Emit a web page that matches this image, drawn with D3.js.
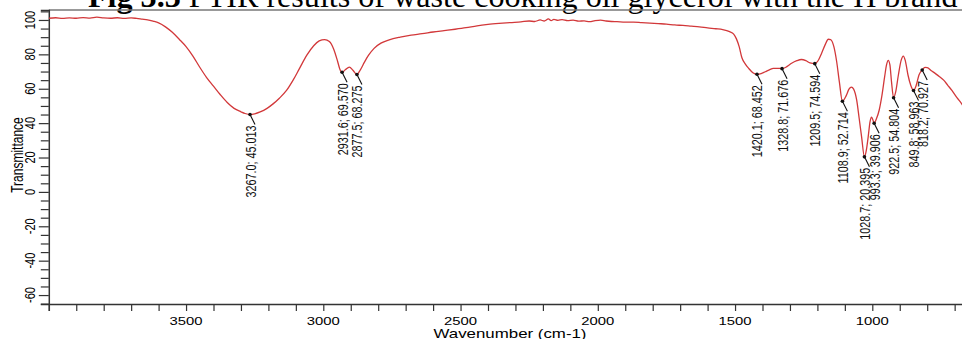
<!DOCTYPE html>
<html>
<head>
<meta charset="utf-8">
<script src="https://cdn.jsdelivr.net/npm/d3@7"></script>
<style>
  body { margin: 0; background: #fff; }
  svg { display: block; }
</style>
</head>
<body>
<div id="chart"></div>
<script>
/* FTIR spectrum: waste cooking oil glycerol, H brand */

// spectrum: wavenumber (cm-1) and % transmittance
const wavenumber = [4000, 3975, 3950, 3925, 3900, 3875, 3850, 3825, 3800, 3775, 3750, 3725, 3700, 3680, 3660, 3640, 3620, 3600,
  3575, 3550, 3525, 3500, 3475, 3450, 3425, 3400, 3375, 3350, 3325, 3300, 3285, 3267, 3250, 3230, 3205, 3183, 3160, 3134,
  3110, 3086, 3060, 3035, 3015, 2995, 2978, 2962, 2948, 2940, 2931.6, 2920, 2905, 2892, 2877.5, 2865, 2850, 2835, 2815,
  2790, 2760, 2720, 2680, 2640, 2600, 2560, 2520, 2480, 2440, 2400, 2360, 2320, 2280, 2250, 2230, 2210, 2195, 2180, 2170,
  2160, 2145, 2130, 2110, 2090, 2070, 2050, 2030, 2010, 1990, 1970, 1950, 1930, 1900, 1870, 1840, 1810, 1780, 1750, 1720,
  1690, 1660, 1630, 1600, 1570, 1545, 1520, 1505, 1495, 1485, 1475, 1463, 1450, 1435, 1420.1, 1405, 1390, 1375, 1360, 1345,
  1328.8, 1310, 1294, 1275, 1258, 1242, 1227, 1209.5, 1195, 1185, 1172, 1160, 1152, 1140, 1130, 1120, 1108.9, 1095, 1085,
  1076, 1068, 1057, 1048, 1039, 1028.7, 1022, 1015, 1008, 1003, 998, 993.3, 985, 975, 965, 955, 948, 942, 936, 930, 922.5,
  915, 905, 895, 887, 880, 870, 860, 849.8, 840, 830, 818.2, 808, 800, 785, 770, 755, 740, 725, 710, 695, 680, 660, 640, 620, 600];
const transmittance = [101.0, 101.3, 100.9, 101.2, 101.0, 101.4, 101.1, 101.6, 101.2, 101.0, 101.3, 100.9, 101.2, 100.9, 100.5, 100.1, 99.3, 98.3,
  96.0, 92.8, 88.8, 84.5, 79.0, 72.5, 66.5, 61.5, 56.5, 52.0, 48.6, 46.6, 45.6, 45.0, 45.4, 46.5, 48.6, 51.2, 54.5, 59.0,
  65.0, 72.0, 79.5, 85.0, 87.8, 88.6, 87.5, 83.0, 76.0, 71.5, 69.57, 71.0, 72.6, 70.8, 68.275, 71.0, 75.5, 79.5, 83.5,
  86.5, 88.4, 90.0, 91.2, 92.0, 93.0, 93.8, 94.6, 95.5, 96.6, 97.4, 98.0, 98.5, 98.9, 99.4, 99.1, 100.0, 99.4, 100.6, 99.6,
  100.4, 99.8, 100.2, 99.6, 99.9, 99.3, 99.5, 99.0, 99.6, 99.9, 99.4, 99.1, 99.0, 98.8, 98.8, 98.5, 98.2, 97.9, 97.6, 97.1,
  96.8, 96.4, 96.0, 95.4, 94.9, 94.4, 93.2, 91.8, 89.0, 84.5, 78.0, 74.5, 71.8, 69.3, 68.452, 68.8, 69.9, 71.0, 71.8, 71.9,
  71.676, 73.0, 74.8, 76.3, 77.0, 76.3, 75.0, 74.594, 77.0, 80.5, 85.5, 88.8, 88.6, 84.5, 76.0, 64.0, 52.714, 56.0, 59.8,
  61.0, 59.8, 53.5, 43.0, 32.0, 20.395, 24.0, 32.0, 41.0, 43.5, 42.0, 39.906, 42.5, 47.5, 56.0, 67.0, 74.0, 76.5, 74.0, 64.0, 54.804,
  58.0, 68.0, 76.5, 79.0, 76.5, 68.0, 62.0, 58.963, 62.0, 68.0, 70.927, 72.4, 72.3, 70.5, 68.8, 67.0, 65.0, 62.0, 59.0, 55.5, 52.5, 48.0, 45.5, 44.0, 43.0];

// labelled peaks
const peakWavenumber = [3267.0, 2931.6, 2877.5, 1420.1, 1328.8, 1209.5, 1108.9, 1028.7, 993.3, 922.5, 849.8, 818.2];
const peakTransmittance = [45.013, 69.570, 68.275, 68.452, 71.676, 74.594, 52.714, 20.395, 39.906, 54.804, 58.963, 70.927];

const xTickLabels = [3500, 3000, 2500, 2000, 1500, 1000];
const yTickLabels = [100, 80, 60, 40, 20, 0, -20, -40, -60];

const width = 962, height = 339,
      margin = ({ top: 10, left: 48.8, bottom: 304 });
const stretch = 1.35; // the source picture is stretched sideways

const svg = d3.select("#chart")
    .append("svg")
    .attr("width", width)
    .attr("height", height);

const x = d3.scaleLinear()
    .domain([4000, 600])
    .range([margin.left, margin.left + 3400 * 0.2745]);

const y = d3.scaleLinear()
    .domain([-65.2, 105.8])
    .range([margin.bottom, margin.top]);

// title, cut off at the top of the picture
const title = svg.append("text")
    .attr("x", 88)
    .attr("y", 7)
    .style("font-family", "'Liberation Serif', 'Times New Roman', serif")
    .style("font-size", "29px")
    .style("fill", "#000");
title.append("tspan").style("font-weight", "bold").text("Fig 3.3 ");
title.append("tspan").text("FTIR results of waste cooking oil glycerol with the H brand");
// fit title to its width in the picture
const tw = title.node().getComputedTextLength();
title.style("font-size", (29 * 870 / tw) + "px");

// frame
svg.append("line")
    .attr("x1", margin.left).attr("x2", width)
    .attr("y1", margin.top).attr("y2", margin.top)
    .attr("stroke", "#777").attr("stroke-width", 1.6);

// axes
const xAxis = svg.append("g")
    .attr("transform", `translate(0,${margin.bottom})`)
    .call(d3.axisBottom(x).ticks(34).tickSize(7).tickFormat(""));
xAxis.select(".domain").attr("stroke", "#333").attr("stroke-width", 1.5);
xAxis.selectAll(".tick line").attr("stroke", "#333").attr("stroke-width", 1.2);

const yAxis = svg.append("g")
    .attr("transform", `translate(${margin.left},0)`)
    .call(d3.axisLeft(y).tickValues(d3.range(-65, 106, 5)).tickSize(8).tickFormat(""));
yAxis.select(".domain").attr("stroke", "#333").attr("stroke-width", 1.5);
yAxis.selectAll(".tick line").attr("stroke", "#333").attr("stroke-width", 1.2)
    .attr("x2", d => d % 20 === 0 ? -10 : -8);

const labelFont = "'Liberation Sans', Arial, sans-serif";

svg.append("g").selectAll("text")
    .data(xTickLabels)
    .join("text")
    .attr("transform", d => `translate(${x(d)},324.5) scale(${stretch},1)`)
    .attr("text-anchor", "middle")
    .style("font-family", labelFont)
    .style("font-size", "11px")
    .text(d => d);

svg.append("g").selectAll("text")
    .data(yTickLabels)
    .join("text")
    .attr("transform", d => `translate(35,${y(d)}) scale(${stretch},1) rotate(-90)`)
    .attr("text-anchor", "middle")
    .style("font-family", labelFont)
    .style("font-size", "11px")
    .text(d => d);

svg.append("text")
    .attr("transform", `translate(23,155) scale(${stretch},1) rotate(-90)`)
    .attr("text-anchor", "middle")
    .style("font-family", labelFont)
    .style("font-size", "12px")
    .text("Transmittance");

svg.append("text")
    .attr("transform", `translate(510,337.5) scale(${stretch},1)`)
    .attr("text-anchor", "middle")
    .style("font-family", labelFont)
    .style("font-size", "12.5px")
    .text("Wavenumber (cm-1)");

// spectrum
const spectrum = wavenumber.map((w, i) => [w, transmittance[i]]);

svg.append("defs").append("clipPath").attr("id", "plot")
    .append("rect")
    .attr("x", margin.left).attr("y", margin.top)
    .attr("width", width - margin.left).attr("height", margin.bottom - margin.top);

svg.append("path")
    .datum(spectrum)
    .attr("clip-path", "url(#plot)")
    .attr("fill", "none")
    .attr("stroke", "#d2383a")
    .attr("stroke-width", 1.3)
    .attr("d", d3.line()
        .x(d => x(d[0]))
        .y(d => y(d[1]))
        .curve(d3.curveMonotoneX));

// peak labels
const peaks = peakWavenumber.map((w, i) => ({ w: w, t: peakTransmittance[i] }));

const peak = svg.append("g").selectAll("g")
    .data(peaks)
    .join("g")
    .attr("transform", d => `translate(${x(d.w)},${y(d.t)})`);

peak.append("line")
    .attr("x1", 0).attr("y1", 0)
    .attr("x2", 5).attr("y2", 10)
    .attr("stroke", "#111").attr("stroke-width", 1.1);

peak.append("circle")
    .attr("r", 1.8)
    .attr("fill", "#111");

peak.append("text")
    .attr("transform", `translate(5.5,11) scale(${stretch},1) rotate(-90)`)
    .attr("text-anchor", "end")
    .style("font-family", labelFont)
    .style("font-size", "10.8px")
    .style("fill", "#111")
    .text(d => `${d.w.toFixed(1)}; ${d.t.toFixed(3)}`);
</script>
</body>
</html>
